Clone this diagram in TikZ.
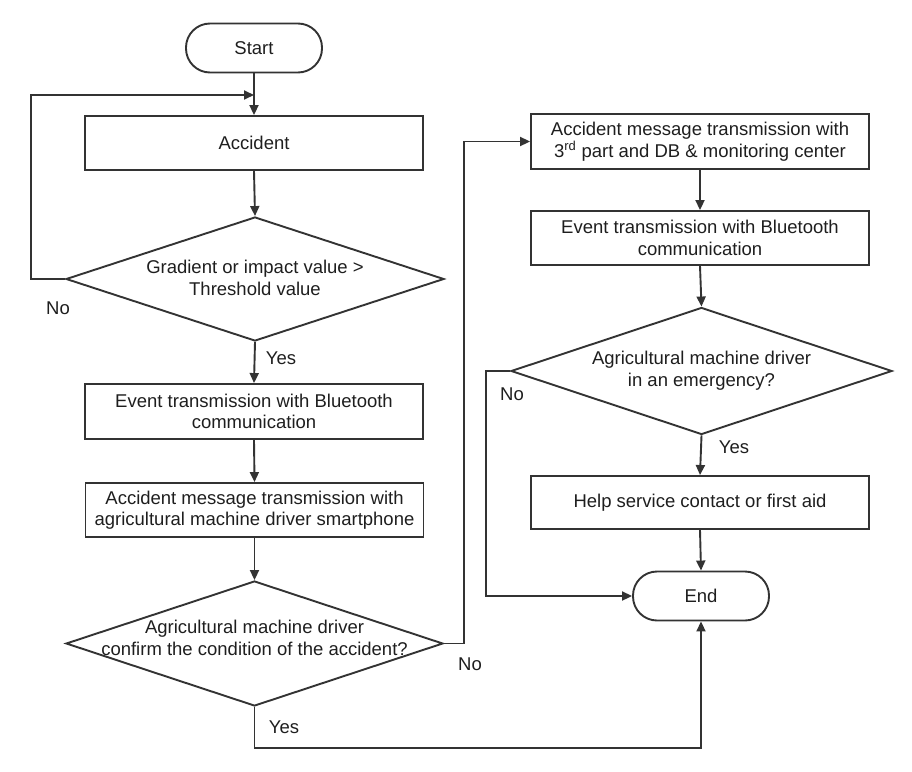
\documentclass[tikz,border=0pt]{standalone}
\usepackage{fontspec}
\setmainfont{Liberation Sans}
\usetikzlibrary{arrows.meta,shapes.geometric}
\definecolor{ln}{HTML}{333333}
\definecolor{tx}{HTML}{1E1E1E}
\tikzset{
  every node/.style={font=\fontsize{18.5}{21.5}\selectfont, text=tx},
  proc/.style={draw=ln, line width=1.9pt, rectangle, minimum width=338pt, minimum height=54pt, align=center, inner sep=0pt},
  term/.style={draw=ln, line width=1.9pt, rectangle, rounded corners=24pt, minimum width=136pt, minimum height=49pt, inner sep=0pt},
  dia/.style={draw=ln, line width=1.9pt, diamond, inner sep=0pt},
  dtext/.style={align=center, inner sep=0pt},
  lbl/.style={inner sep=0pt},
  arr/.style={draw=ln, line width=1.9pt, -{Triangle[length=10pt,width=9pt]}},
}
\begin{document}
\begin{tikzpicture}[x=1pt,y=-1pt]
\useasboundingbox (0,0) rectangle (912,771);
% left column
\node[term] (start) at (254,48) {Start};
\node[proc, minimum height=54pt] (acc) at (254,143) {Accident};
\node[dia, minimum width=378pt, minimum height=124pt] (d1) at (255,279) {};
\node[dtext] at (255,278) {Gradient or impact value >\\Threshold value};
\node[proc, minimum height=55pt] (ev1) at (254,411.5) {Event transmission with Bluetooth\\communication};
\node[proc, minimum height=54pt] (msg1) at (254.5,510) {Accident message transmission with\\agricultural machine driver smartphone};
\node[dia, minimum width=377pt, minimum height=125pt] (d2) at (254.5,643.5) {};
\node[dtext] at (254.5,638) {Agricultural machine driver\\confirm the condition of the accident?};
% right column
\node[proc, minimum height=55pt] (r1) at (700,141.5) {Accident message transmission with\\3\textsuperscript{rd} part and DB \& monitoring center};
\node[proc, minimum height=54pt] (r2) at (700,238) {Event transmission with Bluetooth\\communication};
\node[dia, minimum width=381pt, minimum height=127pt] (d3) at (701.5,371) {};
\node[dtext] at (701.5,370.5) {Agricultural machine driver\\in an emergency?};
\node[proc, minimum height=53pt] (help) at (700,502.5) {Help service contact or first aid};
\node[term] (end) at (701,596) {End};
% labels
\node[lbl] at (58,308) {No};
\node[lbl] at (281,358) {Yes};
\node[lbl] at (284,727) {Yes};
\node[lbl] at (470,664) {No};
\node[lbl] at (512,394) {No};
\node[lbl] at (734,447) {Yes};
% connectors
\coordinate (lp) at (254,95);
\draw[arr] (start.south) -- (acc.north);
\draw[arr] (d1.west) -- ++(-34,0) |- (lp);
\draw[arr] (acc.south) -- (d1.north);
\draw[arr] (d1.south) -- (ev1.north);
\draw[arr] (ev1.south) -- (msg1.north);
\draw[arr] (msg1.south) -- (d2.north);
\draw[arr] (d2.east) -- ++(20,0) |- (r1.west);
\draw[arr] (r1.south) -- (r2.north);
\draw[arr] (r2.south) -- (d3.north);
\draw[arr] (d3.south) -- (help.north);
\draw[arr] (help.south) -- (end.north);
\draw[arr] (d3.west) -- ++(-24,0) |- (end.west);
\draw[arr] (d2.south) -- ++(0,41) -| (end.south);
\end{tikzpicture}
\end{document}
